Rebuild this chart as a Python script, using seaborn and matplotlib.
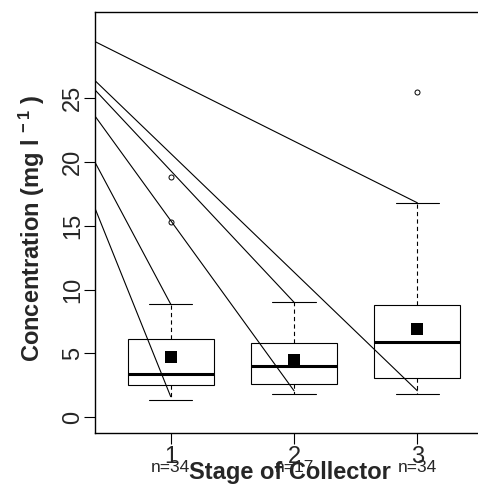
import numpy as np
import matplotlib
matplotlib.use('Agg')
import matplotlib.pyplot as plt
import seaborn as sns
import pandas as pd

# Box summary statistics per stage
STAGES = [1, 2, 3]
N_LABELS = ['n=34', 'n=17', 'n=34']
Q1 = [2.49, 2.56, 3.03]
MEDIAN = [3.35, 4.00, 5.88]
Q3 = [6.14, 5.78, 8.76]
WHISK_LO = [1.33, 1.80, 1.80]
WHISK_HI = [8.89, 9.02, 16.8]
MEANS = [4.68, 4.47, 6.93]
OUTLIERS = [[18.8, 15.3], [], [25.5]]

# Guide lines: value at left edge of panel -> end point (stage, value)
LINE_START_X = 0.386
LINE_START_Y = [29.44, 26.38, 25.65, 23.6, 19.98, 16.37]
LINE_END_X = [3, 3, 2, 2, 1, 1]
LINE_END_Y = [16.8, 2.06, 9.0, 2.06, 8.85, 1.6]

sns.set_style('ticks')
plt.rcParams['font.family'] = ['Liberation Sans', 'DejaVu Sans']
plt.rcParams['mathtext.default'] = 'regular'

fig = plt.figure(figsize=(4.78, 4.95), dpi=100)
ax = fig.add_axes([95 / 478, 62 / 495, 383 / 478, 421 / 495])

stats = []
for i in range(len(STAGES)):
    stats.append({'med': MEDIAN[i], 'q1': Q1[i], 'q3': Q3[i],
                  'whislo': WHISK_LO[i], 'whishi': WHISK_HI[i],
                  'fliers': np.array(OUTLIERS[i])})

ax.bxp(stats, positions=STAGES, widths=0.7, capwidths=0.35, patch_artist=True,
       boxprops=dict(facecolor='none', edgecolor='black', linewidth=0.8),
       medianprops=dict(color='black', linewidth=2.2),
       whiskerprops=dict(color='black', linewidth=0.8, linestyle=(0, (3.8, 2.9))),
       capprops=dict(color='black', linewidth=0.8),
       flierprops=dict(marker='o', markersize=3.6, markerfacecolor='none',
                       markeredgecolor='black', markeredgewidth=0.7),
       manage_ticks=False)

means_df = pd.DataFrame({'stage': STAGES, 'mean': MEANS})
sns.scatterplot(data=means_df, x='stage', y='mean', marker='s', s=71,
                color='black', linewidth=0, ax=ax, zorder=4)

for x0, y0, x1, y1 in zip([LINE_START_X] * len(LINE_START_Y), LINE_START_Y, LINE_END_X, LINE_END_Y):
    ax.plot([x0, x1], [y0, y1], color='black', linewidth=0.8, zorder=5)

ax.set_xlim(0.386, 3.492)
ax.set_ylim(-1.25, 31.76)
ax.set_xticks(STAGES)
ax.set_xticklabels([str(s) for s in STAGES], fontsize=17)
ax.set_yticks([0, 5, 10, 15, 20, 25])
ax.set_yticklabels(['0', '5', '10', '15', '20', '25'], fontsize=17,
                   rotation=90, va='center')
ax.tick_params(axis='both', length=8, width=0.8, color='black', pad=1.5)
ax.tick_params(axis='y', pad=0)

for s in ['left', 'bottom', 'top']:
    ax.spines[s].set_color('black')
    ax.spines[s].set_linewidth(1.0)
ax.spines['right'].set_visible(False)

for x, lab in zip(STAGES, N_LABELS):
    ax.text(x, -0.082, lab, transform=ax.get_xaxis_transform(),
            ha='center', va='center', fontsize=12.5)

ax.set_xlabel('Stage of Collector', fontsize=17, fontweight='bold', va='center')
ax.xaxis.set_label_coords(0.51, -0.093)
ax.set_ylabel(r'Concentration (mg l$^{\,-1}$ )', fontsize=17, fontweight='bold',
              va='center', ha='center')
ax.yaxis.set_label_coords(-0.1645, 0.487)

plt.savefig('out.png', dpi=100)
plt.close()
